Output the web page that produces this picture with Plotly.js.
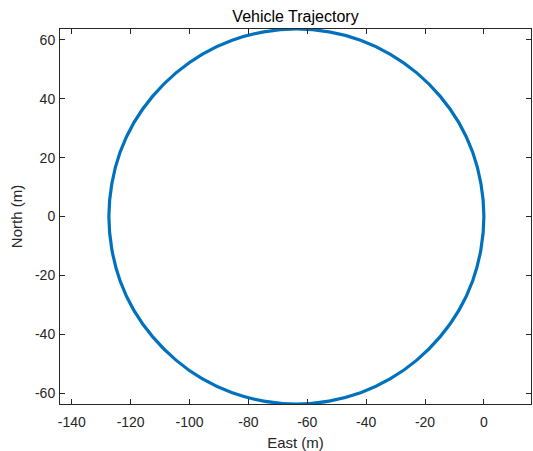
<!DOCTYPE html>
<html>
<head>
<meta charset="utf-8">
<script src="https://cdn.plot.ly/plotly-3.0.1.min.js"></script>
<style>html,body{margin:0;padding:0;background:#fff;}#chart{width:533px;height:451px;}</style>
</head>
<body>
<div id="chart"></div>
<script>
// Trajectory (metres)
var east = [0, -1.0, -3.8, -8.5, -14.9, -22.8, -31.9, -41.9, -52.6, -63.7,
  -74.8, -85.5, -95.6, -104.6, -112.5, -118.9, -123.6, -126.4, -127.4,
  -126.4, -123.6, -118.9, -112.5, -104.6, -95.6, -85.5, -74.8, -63.7,
  -52.6, -41.9, -31.9, -22.8, -14.9, -8.5, -3.8, -1.0, 0];
var north = [0, 11.1, 21.8, 31.9, 40.9, 48.8, 55.2, 59.9, 62.7, 63.7,
  62.7, 59.9, 55.2, 48.8, 40.9, 31.9, 21.8, 11.1, 0,
  -11.1, -21.8, -31.9, -40.9, -48.8, -55.2, -59.9, -62.7, -63.7,
  -62.7, -59.9, -55.2, -48.8, -40.9, -31.9, -21.8, -11.1, 0];
var xTicks = [-140, -120, -100, -80, -60, -40, -20, 0];
var yTicks = [-60, -40, -20, 0, 20, 40, 60];
var xRange = [-144.0, 16.0];
var yRange = [-63.7, 63.7];

var txt = '#262626';
var fam = '"Liberation Sans", Arial, Helvetica, sans-serif';

Plotly.newPlot('chart', [{
  x: east, y: north, type: 'scatter', mode: 'lines',
  line: {color: '#0072BD', width: 3.2, shape: 'spline', smoothing: 1},
  hoverinfo: 'none'
}], {
  width: 533, height: 451,
  margin: {l: 59.5, r: 2, t: 29.3, b: 47.3, pad: 0},
  paper_bgcolor: '#fff', plot_bgcolor: '#fff',
  font: {family: fam, size: 14, color: txt},
  showlegend: false,
  title: {text: 'Vehicle Trajectory', font: {family: fam, size: 16, color: '#000'},
    x: 0.5, xref: 'paper', y: 1 - 16/451, yref: 'container', yanchor: 'middle'},
  xaxis: {range: xRange, tickvals: xTicks, ticktext: xTicks.map(String),
    showgrid: false, zeroline: false, showline: true, mirror: 'allticks',
    linecolor: txt, linewidth: 1, ticks: 'inside', ticklen: 5, tickcolor: txt, tickwidth: 1,
    ticklabelstandoff: 5,
    tickfont: {family: fam, size: 14, color: txt},
    title: {text: 'East (m)', font: {family: fam, size: 15, color: txt}, standoff: 8}},
  yaxis: {range: yRange, tickvals: yTicks, ticktext: yTicks.map(String),
    showgrid: false, zeroline: false, showline: true, mirror: 'allticks',
    linecolor: txt, linewidth: 1, ticks: 'inside', ticklen: 5, tickcolor: txt, tickwidth: 1,
    ticklabelstandoff: 1,
    tickfont: {family: fam, size: 14, color: txt},
    title: {text: 'North (m)', font: {family: fam, size: 15, color: txt}, standoff: 8}}
}, {staticPlot: true, displayModeBar: false});
</script>
</body>
</html>
